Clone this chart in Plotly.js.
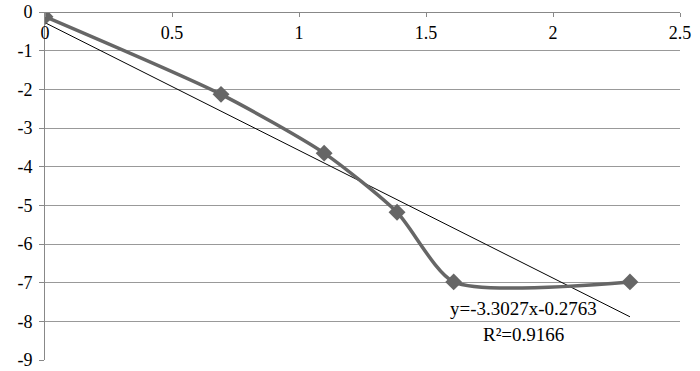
<!DOCTYPE html>
<html>
<head>
<meta charset="utf-8">
<script src="https://cdn.plot.ly/plotly-3.0.1.min.js"></script>
<style>html,body{margin:0;padding:0;background:#fff;}#chart{width:700px;height:371px;}</style>
</head>
<body>
<div id="chart"></div>
<script>
// Data
var xValues = [0, 0.693, 1.099, 1.386, 1.609, 2.303];
var yValues = [-0.12, -2.13, -3.65, -5.18, -6.98, -6.98];
var trendSlope = [-3.3027];
var trendIntercept = [-0.2763];
var trendX = [0, 2.303];
var xTicks = [0, 0.5, 1, 1.5, 2, 2.5];
var xTickLabels = ['0', '0.5', '1', '1.5', '2', '2.5'];
var yTicks = [0, -1, -2, -3, -4, -5, -6, -7, -8, -9];
var yTickLabels = ['0', '-1', '-2', '-3', '-4', '-5', '-6', '-7', '-8', '-9'];
var eqText = ['y=-3.3027x-0.2763', 'R\u00B2=0.9166'];

var trendY = trendX.map(function (x) { return trendSlope[0] * x + trendIntercept[0]; });

var font = {family: 'Liberation Serif', size: 18, color: '#000'};
var eqFont = {family: 'Liberation Serif', size: 19, color: '#000'};

var traces = [
  {
    x: trendX, y: trendY, type: 'scatter', mode: 'lines',
    line: {color: '#000', width: 1}, hoverinfo: 'skip', showlegend: false
  },
  {
    x: xValues, y: yValues, type: 'scatter', mode: 'lines+markers',
    line: {color: '#666666', width: 3.5, shape: 'spline', smoothing: 0.65},
    marker: {symbol: 'diamond', size: 13, color: '#666666'},
    showlegend: false
  }
];

var layout = {
  width: 700, height: 371,
  margin: {l: 45, r: 20, t: 12, b: 11},
  paper_bgcolor: '#fff', plot_bgcolor: '#fff',
  font: font,
  showlegend: false,
  xaxis: {
    range: [0, 2.5], side: 'bottom', anchor: 'free', position: 1,
    tickvals: xTicks, ticktext: xTickLabels,
    ticks: 'outside', ticklen: 4, tickcolor: '#888',
    showline: true, linecolor: '#888', linewidth: 1,
    showgrid: false, zeroline: false, tickfont: font
  },
  yaxis: {
    range: [-9, 0],
    tickvals: yTicks, ticktext: yTickLabels,
    ticks: 'outside', ticklen: 5, tickcolor: '#888',
    ticklabelstandoff: 3,
    showline: true, linecolor: '#888', linewidth: 1,
    showgrid: true, gridcolor: '#999', gridwidth: 1,
    zeroline: false, tickfont: font
  },
  annotations: [
    {x: 1.882, y: -7.68, xref: 'x', yref: 'y', text: eqText[0], showarrow: false, font: eqFont},
    {x: 1.882, y: -8.33, xref: 'x', yref: 'y', text: eqText[1], showarrow: false, font: eqFont}
  ]
};

Plotly.newPlot('chart', traces, layout, {staticPlot: true, displayModeBar: false});
</script>
</body>
</html>
